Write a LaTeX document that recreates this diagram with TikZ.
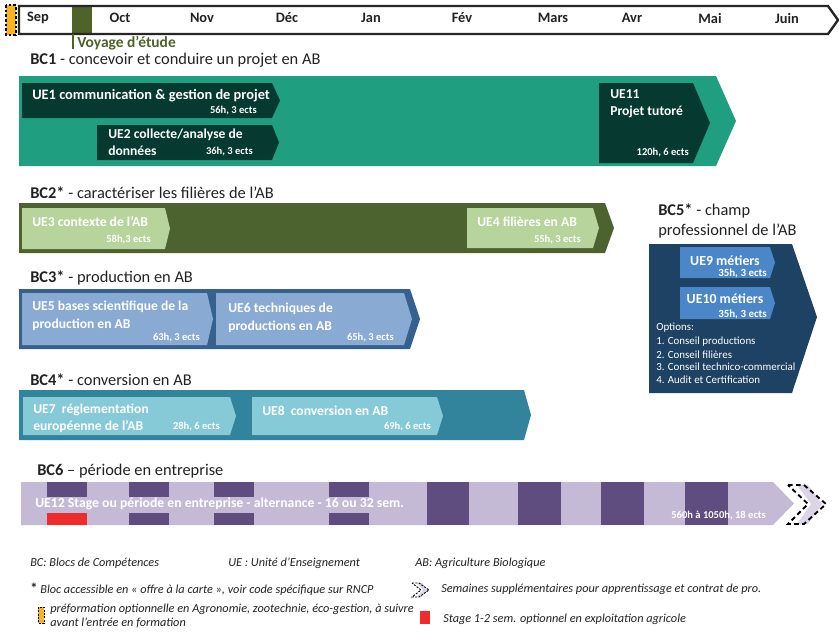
\documentclass[tikz,border=0pt]{standalone}
\usepackage{fontspec}
\setmainfont{Carlito}
\definecolor{bcone}{HTML}{1F9E80}
\definecolor{ueone}{HTML}{063A30}
\definecolor{bctwo}{HTML}{4C622F}
\definecolor{uetwo}{HTML}{B6D49B}
\definecolor{bcthree}{HTML}{36618F}
\definecolor{uethree}{HTML}{88AAD3}
\definecolor{bcfour}{HTML}{31849B}
\definecolor{uefour}{HTML}{86CAD8}
\definecolor{bcfive}{HTML}{1D4263}
\definecolor{uefive}{HTML}{4A86C8}
\definecolor{bcsix}{HTML}{C5BAD6}
\definecolor{purp}{HTML}{5E4D7E}
\definecolor{redst}{HTML}{EE2C2C}
\definecolor{voy}{HTML}{4F6228}
\definecolor{orng}{HTML}{F9B520}
\definecolor{chev}{HTML}{DCD5E8}
\definecolor{ttl}{HTML}{222222}
\newcommand\abox[6]{\fill[#1] (#2,#3) -- (#4,#3) -- (#6,{(#3+#5)/2}) -- (#4,#5) -- (#2,#5) -- cycle;}
\tikzset{
  month/.style={font=\bfseries\fontsize{10.8}{12}\selectfont, text=ttl, anchor=center, inner sep=0pt},
  bctitle/.style={font=\fontsize{12.3}{14.5}\selectfont, text=ttl, anchor=west, inner sep=0pt},
  uetext/.style={font=\bfseries\fontsize{10.2}{13}\selectfont, text=white, anchor=west, inner sep=0pt, align=left},
  hours/.style={font=\bfseries\fontsize{7.9}{9}\selectfont, text=white, anchor=east, inner sep=0pt},
  opt/.style={font=\fontsize{8.2}{9.5}\selectfont, text=white, anchor=west, inner sep=0pt},
  legend/.style={font=\itshape\fontsize{9.2}{10.5}\selectfont, text=ttl, anchor=west, inner sep=0pt},
}
\begin{document}
\begin{tikzpicture}[x=0.75pt,y=-0.75pt]
\useasboundingbox (0,0) rectangle (839,633);
% timeline
\fill[orng] (6,5) rectangle (16,35);
\draw[black, dashed, line width=0.8pt, dash pattern=on 2pt off 1.5pt] (6,5) rectangle (16,35);
\fill[voy] (72,7) rectangle (92,33);
\draw[black!85, line width=1.8pt, line join=miter] (19,6) -- (828,6) -- (838,20) -- (828,34) -- (19,34) -- cycle;
\draw[voy, line width=1.8pt] (73,34) -- (73,49);
\node[font=\bfseries\fontsize{11.6}{12}\selectfont, text=voy, anchor=west, inner sep=0pt] (voyage) at (77,43) {Voyage d’étude};
\node[month] (m1) at (38,18) {Sep};
\node[month] (m2) at (120,18) {Oct};
\node[month] (m3) at (202,18) {Nov};
\node[month] (m4) at (287,18) {Déc};
\node[month] (m5) at (371,18) {Jan};
\node[month] (m6) at (462,18) {Fév};
\node[month] (m7) at (553,18) {Mars};
\node[month] (m8) at (632,18) {Avr};
\node[month] (m9) at (710,18) {Mai};
\node[month] (m10) at (787,18) {Juin};

% BC1
\node[bctitle] (t1) at (30,60) {\textbf{BC1} - concevoir et conduire un projet en AB};
\abox{bcone}{19}{76}{716}{166}{736}
\abox{ueone}{22}{83}{272}{118}{280}
\abox{ueone}{97}{125}{272}{160}{279}
\abox{ueone}{599}{83}{693}{163}{710}
\node[uetext, font=\bfseries\fontsize{10.8}{13}\selectfont] (ue1) at (32,96) {UE1 communication \& gestion de projet};
\node[hours] (h1) at (257,111) {56h, 3 ects};
\node[uetext] (ue2) at (108,142) {UE2 collecte/analyse de\\données};
\node[hours] (h2) at (253,152) {36h, 3 ects};
\node[uetext] (ue11) at (610,104) {UE11\\Projet tutoré};
\node[hours] (h11) at (689,153) {120h, 6 ects};

% BC2
\node[bctitle] (t2) at (30,193) {\textbf{BC2*} - caractériser les filières de l’AB};
\abox{bctwo}{19}{203}{605}{253}{614}
\abox{uetwo}{22}{208}{165}{249}{170}
\abox{uetwo}{467}{208}{593}{248}{599}
\node[uetext] (ue3) at (32,222) {UE3 contexte de l’AB};
\node[hours] (h3) at (151,240) {58h,3 ects};
\node[uetext] (ue4) at (477,222) {UE4 filières en AB};
\node[hours] (h4) at (581,240) {55h, 3 ects};

% BC3
\node[bctitle] (t3) at (30,278) {\textbf{BC3*} - production en AB};
\abox{bcthree}{19}{289}{410}{349}{420}
\abox{uethree}{22}{293}{207}{345}{213}
\abox{uethree}{216}{293}{404}{345}{412}
\node[uetext, font=\bfseries\fontsize{10.2}{13.5}\selectfont] (ue5) at (32,316) {UE5 bases scientifique de la\\production en AB};
\node[hours] (h5) at (200,338) {63h, 3 ects};
\node[uetext, font=\bfseries\fontsize{10.2}{13.5}\selectfont] (ue6) at (228,318) {UE6 techniques de\\productions en AB};
\node[hours] (h6) at (394,338) {65h, 3 ects};

% BC4
\node[bctitle] (t4) at (30,380) {\textbf{BC4*} - conversion en AB};
\abox{bcfour}{19}{390}{524}{440}{531}
\abox{uefour}{23}{397}{230}{435}{236}
\abox{uefour}{252}{397}{437}{435}{443}
\node[uetext] (ue7) at (33,418) {UE7\ \ réglementation\\européenne de l’AB};
\node[hours] (h7) at (220,427) {28h, 6 ects};
\node[uetext] (ue8) at (262,411) {UE8\ \ conversion en AB};
\node[hours] (h8) at (431,427) {69h, 6 ects};

% BC5
\node[bctitle, align=left] (t5) at (658,221) {\textbf{BC5*} - champ\\professionnel de l’AB};
\fill[bcfive] (649,244) -- (792,244) -- (817,317) -- (792,393) -- (649,393) -- cycle;
\abox{uefive}{680}{247}{770}{278}{775}
\abox{uefive}{680}{287}{770}{319}{775}
\node[font=\bfseries\fontsize{10.4}{11}\selectfont, text=white, inner sep=0pt] (ue9) at (725,261) {UE9 métiers};
\node[hours, font=\bfseries\fontsize{8.2}{9}\selectfont] (h9) at (767,273) {35h, 3 ects};
\node[font=\bfseries\fontsize{10.4}{11}\selectfont, text=white, inner sep=0pt] (ue10) at (725,299) {UE10 métiers};
\node[hours, font=\bfseries\fontsize{8.2}{9}\selectfont] (h10) at (767,314) {35h, 3 ects};
\node[opt] (o0) at (656,328) {Options:};
\node[opt] (o1) at (656,342) {1. Conseil productions};
\node[opt] (o2) at (656,355) {2. Conseil filières};
\node[opt] (o3) at (656,367) {3. Conseil technico-commercial};
\node[opt] (o4) at (656,380) {4. Audit et Certification};

% BC6
\node[bctitle] (t6) at (37,471) {\textbf{BC6} – période en entreprise};
\abox{bcsix}{21}{482}{773}{525}{794}
\foreach \a/\b in {47/87,129/169,214/254,329/369}{
  \fill[purp] (\a,482) rectangle (\b,497);
  \fill[purp] (\a,513) rectangle (\b,525);
}
\fill[redst] (47,513) rectangle (87,525);
\foreach \a/\b in {427/469,518/561,601/644,685/728}{
  \fill[purp] (\a,482) rectangle (\b,525);
}
\node[uetext, font=\bfseries\fontsize{10.3}{13}\selectfont] (ue12) at (35,504) {UE12 Stage ou période en entreprise - alternance - 16 ou 32 sem.};
\node[hours] (h12) at (766,516) {560h à 1050h, 18 ects};
% chevrons
\fill[chev] (797,485) -- (808,485) -- (822,504) -- (808,524) -- (797,524) -- (811,504) -- cycle;
\draw[black, dashed, line width=1.4pt, dash pattern=on 3.5pt off 2.5pt] (788,485) -- (804,485) -- (826,504) -- (804,524) -- (788,524) -- (808,504) -- cycle;

% legend
\node[legend] (l1) at (30,563) {BC: Blocs de Compétences};
\node[legend] (l2) at (228,563) {UE : Unité d’Enseignement};
\node[legend] (l3) at (415,563) {AB: Agriculture Biologique};
\node[legend] (l4) at (30,589) {{\upshape\bfseries\fontsize{11}{11}\selectfont *} Bloc accessible en « offre à la carte », voir code spécifique sur RNCP};
\fill[chev] (417,583) -- (422,583) -- (428,590) -- (422,597) -- (417,597) -- (423,590) -- cycle;
\draw[black, dashed, line width=0.7pt, dash pattern=on 1.5pt off 1pt] (412,583) -- (419,583) -- (429,590) -- (419,597) -- (412,597) -- (421,590) -- cycle;
\node[legend] (l5) at (441,589) {Semaines supplémentaires pour apprentissage et contrat de pro.};
\fill[orng] (38,607) rectangle (44,623);
\draw[black, dashed, line width=0.6pt, dash pattern=on 1.5pt off 1pt] (38,607) rectangle (44,623);
\node[legend, align=left, font=\itshape\fontsize{9.2}{10.5}\selectfont] (l6) at (50,616) {préformation optionnelle en Agronomie, zootechnie, éco-gestion, à suivre\\avant l’entrée en formation};
\fill[redst] (420,611) rectangle (430,624);
\node[legend] (l7) at (443,619) {Stage 1-2 sem. optionnel en exploitation agricole};
\end{tikzpicture}
\end{document}
